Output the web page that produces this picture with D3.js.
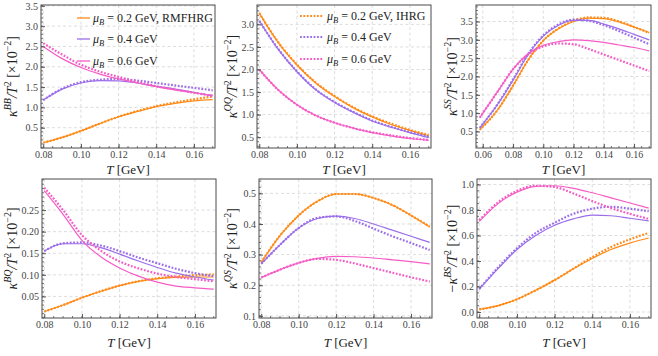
<!DOCTYPE html>
<html>
<head>
<meta charset="utf-8">
<script src="https://cdn.jsdelivr.net/npm/d3@7"></script>
<style>
  body { margin: 0; background: #fff; }
  svg { font-family: "Liberation Serif", "DejaVu Serif", serif; }
</style>
</head>
<body>
<div class="fig"></div>
<script>
// temperatures (GeV)
const T = [0.08, 0.09, 0.10, 0.11, 0.12, 0.13, 0.14, 0.15, 0.16, 0.17];
const Tss = [0.058, 0.07, 0.08, 0.09, 0.10, 0.11, 0.12, 0.13, 0.14, 0.15, 0.16, 0.17];
const muLabels = ["0.2", "0.4", "0.6"];
const colors = ["#ff8a17", "#9b6eea", "#f65cc6"];

// rows: mu_B = 0.2, 0.4, 0.6 GeV
const bbRmf = [
  [0.13, 0.26, 0.42, 0.60, 0.77, 0.90, 1.02, 1.10, 1.16, 1.19],
  [1.18, 1.45, 1.60, 1.66, 1.65, 1.60, 1.52, 1.45, 1.37, 1.28],
  [2.50, 2.20, 1.98, 1.82, 1.70, 1.60, 1.51, 1.43, 1.36, 1.30]
];
const bbIdeal = [
  [0.13, 0.26, 0.42, 0.60, 0.77, 0.91, 1.03, 1.12, 1.20, 1.27],
  [1.18, 1.46, 1.62, 1.68, 1.70, 1.66, 1.60, 1.54, 1.48, 1.42],
  [2.58, 2.30, 2.05, 1.88, 1.75, 1.63, 1.52, 1.44, 1.36, 1.28]
];
const qqRmf = [
  [3.25, 2.60, 2.10, 1.70, 1.40, 1.15, 0.95, 0.78, 0.65, 0.53],
  [3.08, 2.45, 1.95, 1.55, 1.27, 1.05, 0.86, 0.72, 0.60, 0.49],
  [2.00, 1.55, 1.22, 0.98, 0.82, 0.70, 0.60, 0.53, 0.47, 0.43]
];
const qqIdeal = [
  [3.25, 2.61, 2.11, 1.71, 1.41, 1.16, 0.96, 0.80, 0.66, 0.55],
  [3.08, 2.46, 1.96, 1.56, 1.28, 1.06, 0.87, 0.73, 0.61, 0.51],
  [2.00, 1.55, 1.22, 0.98, 0.82, 0.70, 0.61, 0.54, 0.48, 0.44]
];
const ssRmf = [
  [0.55, 1.10, 1.75, 2.45, 2.98, 3.30, 3.50, 3.59, 3.58, 3.49, 3.35, 3.20],
  [0.60, 1.25, 1.90, 2.60, 3.10, 3.40, 3.53, 3.53, 3.43, 3.30, 3.15, 3.00],
  [0.88, 1.60, 2.20, 2.62, 2.85, 2.95, 3.00, 2.98, 2.93, 2.86, 2.79, 2.70]
];
const ssIdeal = [
  [0.55, 1.10, 1.75, 2.45, 2.98, 3.31, 3.52, 3.61, 3.60, 3.50, 3.35, 3.19],
  [0.60, 1.26, 1.92, 2.62, 3.12, 3.42, 3.55, 3.52, 3.40, 3.24, 3.06, 2.88],
  [0.88, 1.60, 2.20, 2.60, 2.82, 2.90, 2.88, 2.75, 2.60, 2.45, 2.30, 2.15]
];
const bqRmf = [
  [0.015, 0.030, 0.047, 0.062, 0.075, 0.085, 0.091, 0.094, 0.095, 0.095],
  [0.155, 0.172, 0.172, 0.163, 0.148, 0.132, 0.117, 0.104, 0.095, 0.088],
  [0.295, 0.240, 0.180, 0.142, 0.116, 0.097, 0.083, 0.074, 0.070, 0.067]
];
const bqIdeal = [
  [0.015, 0.030, 0.047, 0.062, 0.075, 0.085, 0.092, 0.096, 0.099, 0.101],
  [0.155, 0.173, 0.175, 0.168, 0.155, 0.140, 0.127, 0.114, 0.104, 0.097],
  [0.302, 0.250, 0.192, 0.156, 0.131, 0.115, 0.103, 0.095, 0.090, 0.085]
];
const qsRmf = [
  [0.275, 0.362, 0.428, 0.474, 0.498, 0.498, 0.485, 0.462, 0.428, 0.390],
  [0.270, 0.332, 0.387, 0.418, 0.426, 0.418, 0.400, 0.380, 0.360, 0.340],
  [0.225, 0.251, 0.273, 0.288, 0.294, 0.293, 0.289, 0.283, 0.277, 0.270]
];
const qsIdeal = [
  [0.275, 0.362, 0.428, 0.474, 0.498, 0.498, 0.485, 0.462, 0.428, 0.392],
  [0.270, 0.332, 0.387, 0.420, 0.425, 0.410, 0.385, 0.360, 0.338, 0.315],
  [0.225, 0.251, 0.273, 0.286, 0.283, 0.271, 0.256, 0.241, 0.226, 0.212]
];
const bsRmf = [
  [0.02, 0.05, 0.10, 0.17, 0.25, 0.34, 0.42, 0.49, 0.54, 0.58],
  [0.18, 0.34, 0.49, 0.60, 0.68, 0.73, 0.76, 0.755, 0.735, 0.715],
  [0.71, 0.85, 0.94, 0.985, 0.99, 0.97, 0.935, 0.895, 0.855, 0.815]
];
const bsIdeal = [
  [0.02, 0.05, 0.10, 0.17, 0.25, 0.34, 0.43, 0.51, 0.57, 0.62],
  [0.18, 0.35, 0.50, 0.62, 0.70, 0.77, 0.81, 0.825, 0.81, 0.79],
  [0.72, 0.86, 0.95, 0.99, 0.98, 0.93, 0.87, 0.815, 0.77, 0.73]
];

const xTicks = [0.08, 0.10, 0.12, 0.14, 0.16];
const xTicksSS = [0.06, 0.08, 0.10, 0.12, 0.14, 0.16];

const panels = [
  { box: [41, 215, 5, 148], xd: [0.0788, 0.1712], yd: [0, 3.52], t: T, rmf: bbRmf, ideal: bbIdeal,
    xt: xTicks, yt: [0.5, 1.0, 1.5, 2.0, 2.5, 3.0, 3.5], fmt: ".1f", minorY: 0.1, sup: "BB", neg: false, lx: 17, legend: "rmf" },
  { box: [257, 431, 5, 148], xd: [0.0788, 0.1712], yd: [0.26, 3.43], t: T, rmf: qqRmf, ideal: qqIdeal,
    xt: xTicks, yt: [0.5, 1.0, 1.5, 2.0, 2.5, 3.0], fmt: ".1f", minorY: 0.1, sup: "QQ", neg: false, lx: 237, legend: "ideal" },
  { box: [476, 651, 5, 148], xd: [0.0555, 0.1712], yd: [0.05, 3.95], t: Tss, rmf: ssRmf, ideal: ssIdeal,
    xt: xTicksSS, yt: [0.5, 1.0, 1.5, 2.0, 2.5, 3.0, 3.5], fmt: ".1f", minorY: 0.1, sup: "SS", neg: false, lx: 457 },
  { box: [42, 216, 179, 318], xd: [0.0788, 0.1712], yd: [0, 0.322], t: T, rmf: bqRmf, ideal: bqIdeal,
    xt: xTicks, yt: [0.05, 0.10, 0.15, 0.20, 0.25], fmt: ".2f", minorY: 0.01, sup: "BQ", neg: false, lx: 17 },
  { box: [259, 432, 179, 318], xd: [0.0788, 0.1712], yd: [0.093, 0.547], t: T, rmf: qsRmf, ideal: qsIdeal,
    xt: xTicks, yt: [0.1, 0.2, 0.3, 0.4, 0.5], fmt: ".1f", minorY: 0.02, sup: "QS", neg: false, lx: 237 },
  { box: [477, 651, 179, 318], xd: [0.0788, 0.1712], yd: [-0.047, 1.043], t: T, rmf: bsRmf, ideal: bsIdeal,
    xt: xTicks, yt: [0.0, 0.2, 0.4, 0.6, 0.8, 1.0], fmt: ".1f", minorY: 0.05, sup: "BS", neg: true, lx: 457 }
];

const svg = d3.select(".fig").append("svg")
  .attr("width", 658).attr("height", 356);

panels.forEach((p, pi) => {
  const [l, r, t, b] = p.box;
  const x = d3.scaleLinear().domain(p.xd).range([l, r]);
  const y = d3.scaleLinear().domain(p.yd).range([b, t]);
  const g = svg.append("g");
  const bottomRow = pi >= 3;

  // grid lines
  g.selectAll(".gx").data(p.xt).enter().append("line")
    .attr("x1", d => x(d)).attr("x2", d => x(d)).attr("y1", t).attr("y2", b)
    .attr("stroke", "#d4d4d4").attr("stroke-dasharray", "3,2.5").attr("stroke-width", 0.8);
  g.selectAll(".gy").data(p.yt).enter().append("line")
    .attr("x1", l).attr("x2", r).attr("y1", d => y(d)).attr("y2", d => y(d))
    .attr("stroke", "#d4d4d4").attr("stroke-dasharray", "3,2.5").attr("stroke-width", 0.8);

  // curves
  const line = d3.line().curve(d3.curveMonotoneX);
  const clipId = "clip" + pi;
  g.append("clipPath").attr("id", clipId).append("rect")
    .attr("x", l).attr("y", t).attr("width", r - l).attr("height", b - t);
  const cg = g.append("g").attr("clip-path", `url(#${clipId})`);
  [0, 1, 2].forEach(k => {
    cg.append("path")
      .attr("d", line(p.t.map((tv, i) => [x(tv), y(p.ideal[k][i])])))
      .attr("fill", "none").attr("stroke", colors[k]).attr("stroke-width", 2.2)
      .attr("stroke-dasharray", "1.8,1.6");
    cg.append("path")
      .attr("d", line(p.t.map((tv, i) => [x(tv), y(p.rmf[k][i])])))
      .attr("fill", "none").attr("stroke", colors[k]).attr("stroke-width", 1.2);
  });

  // axes (ticks inward, labels outside)
  const ax = d3.axisBottom(x).tickValues(p.xt).tickFormat(d3.format(".2f")).tickSizeInner(-4).tickSizeOuter(0).tickPadding(3);
  const ay = d3.axisLeft(y).tickValues(p.yt).tickFormat(d3.format(p.fmt)).tickSizeInner(-4).tickSizeOuter(0).tickPadding(3);
  const gx = g.append("g").attr("transform", `translate(0,${b})`).call(ax);
  const gy = g.append("g").attr("transform", `translate(${l},0)`).call(ay);
  [gx, gy].forEach(a => {
    a.select(".domain").remove();
    a.selectAll(".tick line").attr("stroke", "#555");
    a.selectAll("text").attr("font-size", 10).attr("fill", "#444")
      .attr("font-family", "Liberation Serif, serif");
  });

  // minor ticks
  const xMinor = d3.range(Math.ceil(p.xd[0] / 0.005) * 0.005, p.xd[1], 0.005);
  g.selectAll(".mx").data(xMinor).enter().append("line")
    .attr("x1", d => x(d)).attr("x2", d => x(d)).attr("y1", b).attr("y2", b - 2)
    .attr("stroke", "#555").attr("stroke-width", 0.8);
  const yMinor = d3.range(Math.ceil(p.yd[0] / p.minorY) * p.minorY, p.yd[1], p.minorY);
  g.selectAll(".my").data(yMinor).enter().append("line")
    .attr("x1", l).attr("x2", l + 2).attr("y1", d => y(d)).attr("y2", d => y(d))
    .attr("stroke", "#555").attr("stroke-width", 0.8);

  // frame
  g.append("rect").attr("x", l).attr("y", t).attr("width", r - l).attr("height", b - t)
    .attr("fill", "none").attr("stroke", "#4a4a4a").attr("stroke-width", 1);

  // x label
  const xl = g.append("text").attr("x", (l + r) / 2).attr("y", b + (bottomRow ? 29 : 26))
    .attr("text-anchor", "middle").attr("font-size", 13).attr("fill", "#222");
  xl.append("tspan").attr("font-style", "italic").text("T");
  xl.append("tspan").text(" [GeV]");

  // y label
  const yl = g.append("text")
    .attr("transform", `translate(${p.lx},${(t + b) / 2}) rotate(-90)`)
    .attr("text-anchor", "middle").attr("font-size", 14).attr("fill", "#222");
  if (p.neg) yl.append("tspan").text("\u2212");
  yl.append("tspan").attr("font-style", "italic").text("\u03ba");
  yl.append("tspan").attr("font-style", "italic").attr("font-size", 10).attr("dy", -6).text(p.sup);
  yl.append("tspan").attr("font-style", "italic").attr("dy", 6).text("/T");
  yl.append("tspan").attr("font-size", 10).attr("dy", -6).text("2");
  yl.append("tspan").attr("dy", 6).text(" [\u00d710");
  yl.append("tspan").attr("font-size", 10).attr("dy", -6).text("\u22122");
  yl.append("tspan").attr("dy", 6).text("]");

  // legend
  if (p.legend) {
    const isRmf = p.legend === "rmf";
    const lx0 = isRmf ? 77 : 300, lx1 = isRmf ? 90 : 323, tx = isRmf ? 93 : 327;
    const ys = isRmf ? [18, 39, 61] : [16, 37, 59];
    muLabels.forEach((m, k) => {
      const ln = g.append("line").attr("x1", lx0).attr("x2", lx1).attr("y1", ys[k]).attr("y2", ys[k])
        .attr("stroke", colors[k]);
      if (isRmf) ln.attr("stroke-width", 1.3);
      else ln.attr("stroke-width", 2.2).attr("stroke-dasharray", "1.8,1.6");
      const tt = g.append("text").attr("x", tx).attr("y", ys[k] + 4).attr("font-size", 12).attr("fill", "#222");
      tt.append("tspan").attr("font-style", "italic").text("\u03bc");
      tt.append("tspan").attr("font-style", "italic").attr("font-size", 8.5).attr("dy", 3).text("B");
      tt.append("tspan").attr("dy", -3).text(" = " + m + " GeV" + (k === 0 ? (isRmf ? ",  RMFHRG" : ",  IHRG") : ""));
    });
  }
});
</script>
</body>
</html>
